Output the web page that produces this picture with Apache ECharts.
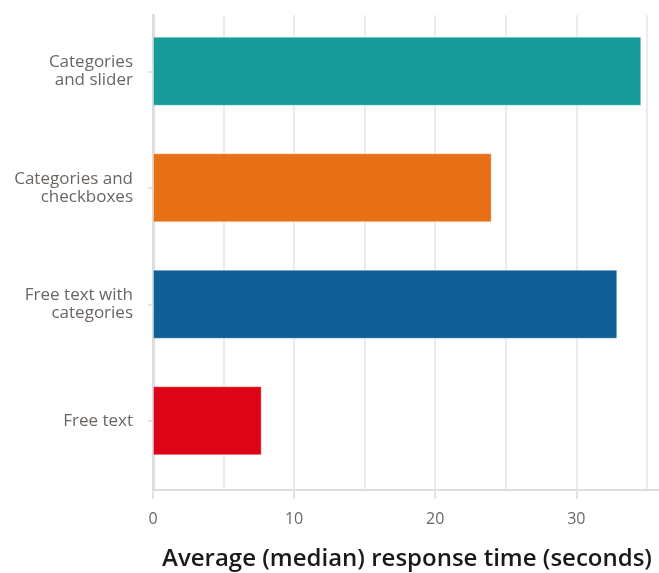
<!DOCTYPE html>
<html>
<head>
<meta charset="utf-8">
<script src="https://cdn.jsdelivr.net/npm/echarts@6/dist/echarts.min.js"></script>
<style>
  html, body { margin: 0; padding: 0; background: #fff; }
  #chart { width: 659px; height: 573px; }
</style>
</head>
<body>
<div id="chart"></div>
<script>
  // data
  let categories = ['Categories\nand slider', 'Categories and\ncheckboxes', 'Free text with\ncategories', 'Free text'];
  let times = [34.6, 24.0, 32.9, 7.7];
  let colors = ['#179b98', '#e87016', '#115e99', '#dc0416'];
  let axisMax = 36;

  let chart = echarts.init(document.getElementById('chart'));
  let font = '"Open Sans", sans-serif';

  let option = {
    animation: false,
    grid: [
      // bars
      {left: 153, width: 508, top: 13, height: 466, outerBoundsMode: 'none'},
      // value axis, gridlines
      {left: 153, width: 508, top: 15, height: 475, outerBoundsMode: 'none'}
    ],
    xAxis: [
      {gridIndex: 0, type: 'value', min: 0, max: axisMax, show: false},
      {
        gridIndex: 1, type: 'value', min: 0, max: axisMax, interval: 10,
        name: 'Average (median) response time (seconds)',
        nameLocation: 'middle',
        nameGap: 57,
        nameTextStyle: {fontFamily: font, fontSize: 24, fontWeight: 600, color: '#1a1a1a'},
        axisLine: {show: true, lineStyle: {color: '#dddddd', width: 2}},
        axisTick: {show: true, length: 9, lineStyle: {color: '#e4e4e4', width: 2}},
        axisLabel: {
          margin: 21, fontFamily: font, fontSize: 16, fontWeight: 500, color: '#6b6662',
          formatter: function (v) { return v % 10 === 0 ? String(v) : ''; }
        },
        splitLine: {show: true, lineStyle: {color: '#ececec', width: 2}},
        minorTick: {show: false, splitNumber: 2},
        minorSplitLine: {show: true, lineStyle: {color: '#ececec', width: 2}}
      }
    ],
    yAxis: [
      {
        gridIndex: 0, type: 'category', data: categories, inverse: true,
        offset: 3,
        axisLine: {show: false},
        axisTick: {show: true, alignWithLabel: true, length: 5, lineStyle: {color: '#e4e4e4', width: 2}},
        axisLabel: {margin: 17, fontFamily: font, fontSize: 17, fontWeight: 500, lineHeight: 18, color: '#6b6662', align: 'right'},
        splitLine: {show: false}
      },
      {
        gridIndex: 1, type: 'value', min: 0, max: 1,
        axisLine: {show: true, lineStyle: {color: '#dddddd', width: 3}},
        axisTick: {show: false},
        axisLabel: {show: false},
        splitLine: {show: false}
      }
    ],
    series: [{
      type: 'bar',
      xAxisIndex: 0,
      yAxisIndex: 0,
      barWidth: 69,
      data: times.map(function (v, i) {
        return {
          value: v,
          itemStyle: {color: colors[i], borderColor: 'rgba(255,255,255,0.35)', borderWidth: 1}
        };
      })
    }]
  };

  chart.setOption(option);
</script>
</body>
</html>
